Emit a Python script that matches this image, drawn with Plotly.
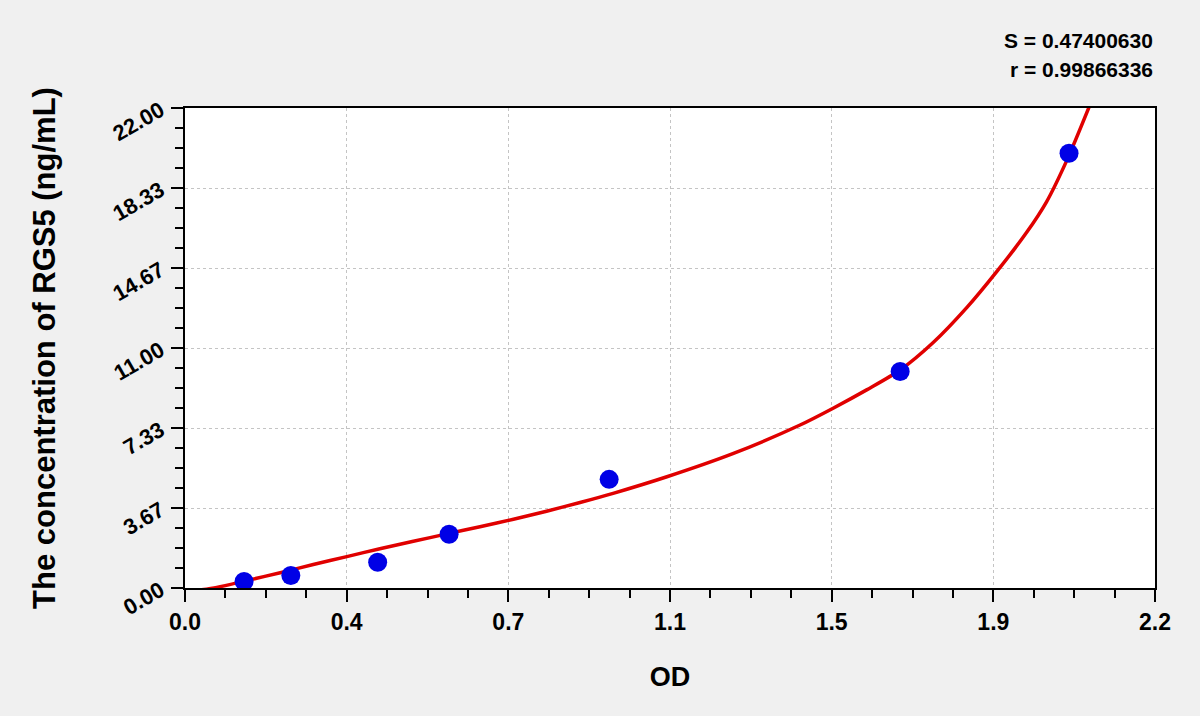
import plotly.graph_objects as go
import numpy as np

# standards (OD vs concentration)
od = [0.134, 0.240, 0.437, 0.599, 0.962, 1.622, 2.005]
conc = [0.30, 0.57, 1.18, 2.46, 4.98, 9.92, 19.93]

# fitted curve, points
fit_od = [0.034, 0.072, 0.140, 0.216, 0.291, 0.367, 0.442, 0.518, 0.594, 0.669,
          0.745, 0.820, 0.896, 0.971, 1.093, 1.244, 1.395, 1.470, 1.546, 1.622,
          1.697, 1.773, 1.841, 1.909, 1.954, 2.000, 2.053]
fit_conc = [-0.09, 0.03, 0.34, 0.70, 1.08, 1.44, 1.80, 2.14, 2.48, 2.81,
            3.15, 3.52, 3.92, 4.34, 5.10, 6.17, 7.47, 8.24, 9.08, 9.99,
            11.25, 12.85, 14.50, 16.30, 17.70, 19.60, 22.17]

x_tick_labels = ["0.0", "0.4", "0.7", "1.1", "1.5", "1.9", "2.2"]
y_tick_labels = ["0.00", "3.67", "7.33", "11.00", "14.67", "18.33", "22.00"]

stats = ["S = 0.47400630", "r = 0.99866336"]

x_max = 2.2
y_max = 22.0
x_ticks = np.linspace(0, x_max, len(x_tick_labels))
y_ticks = np.linspace(0, y_max, len(y_tick_labels))

font = "Liberation Sans, Arial, sans-serif"

fig = go.Figure()
fig.add_trace(go.Scatter(x=fit_od, y=fit_conc, mode="lines",
                         line=dict(color="#e00000", width=3.5, shape="spline", smoothing=0.8),
                         cliponaxis=False, showlegend=False))
fig.add_trace(go.Scatter(x=od, y=conc, mode="markers",
                         marker=dict(color="#0000e6", size=19),
                         showlegend=False))

axis_common = dict(
    showline=True, linecolor="black", linewidth=2, mirror=True,
    ticks="outside", ticklen=12, tickwidth=2, tickcolor="black",
    showgrid=True, gridcolor="#c4c4c4", gridwidth=1, griddash="dot",
    zeroline=False,
)

fig.update_xaxes(
    range=[0, x_max], tickmode="array", tickvals=x_ticks, ticktext=x_tick_labels,
    tickfont=dict(family=font, size=23, color="black", weight="bold"),
    title=dict(text="OD", font=dict(family=font, size=27, color="black", weight="bold"),
               standoff=34),
    minor=dict(tickmode="linear", tick0=0, dtick=x_max / 24, ticks="outside",
               ticklen=8, tickwidth=2, tickcolor="black", showgrid=False),
    **axis_common,
)
fig.update_yaxes(
    range=[0, y_max], tickmode="array", tickvals=y_ticks, ticktext=y_tick_labels,
    tickangle=-30, ticklabelstandoff=6,
    tickfont=dict(family=font, size=22, color="black", weight="bold"),
    title=dict(text="The concentration of RGS5 (ng/mL)",
               font=dict(family=font, size=31, color="black", weight="bold"),
               standoff=44),
    minor=dict(tickmode="linear", tick0=0, dtick=y_max / 24, ticks="outside",
               ticklen=8, tickwidth=2, tickcolor="black", showgrid=False),
    **axis_common,
)

for i, s in enumerate(stats):
    fig.add_annotation(text=s, xref="paper", yref="paper", x=1.0, y=1.0,
                       xanchor="right", yanchor="middle", yshift=68 - 29 * i,
                       showarrow=False,
                       font=dict(family=font, size=21, color="black", weight="bold"))

fig.update_layout(
    width=1200, height=716,
    margin=dict(l=185, r=45, t=108, b=128),
    paper_bgcolor="#f0f0f0", plot_bgcolor="white",
)

fig.write_html("out.html", config={"displayModeBar": False},
               post_script="document.body.style.margin='0';")
